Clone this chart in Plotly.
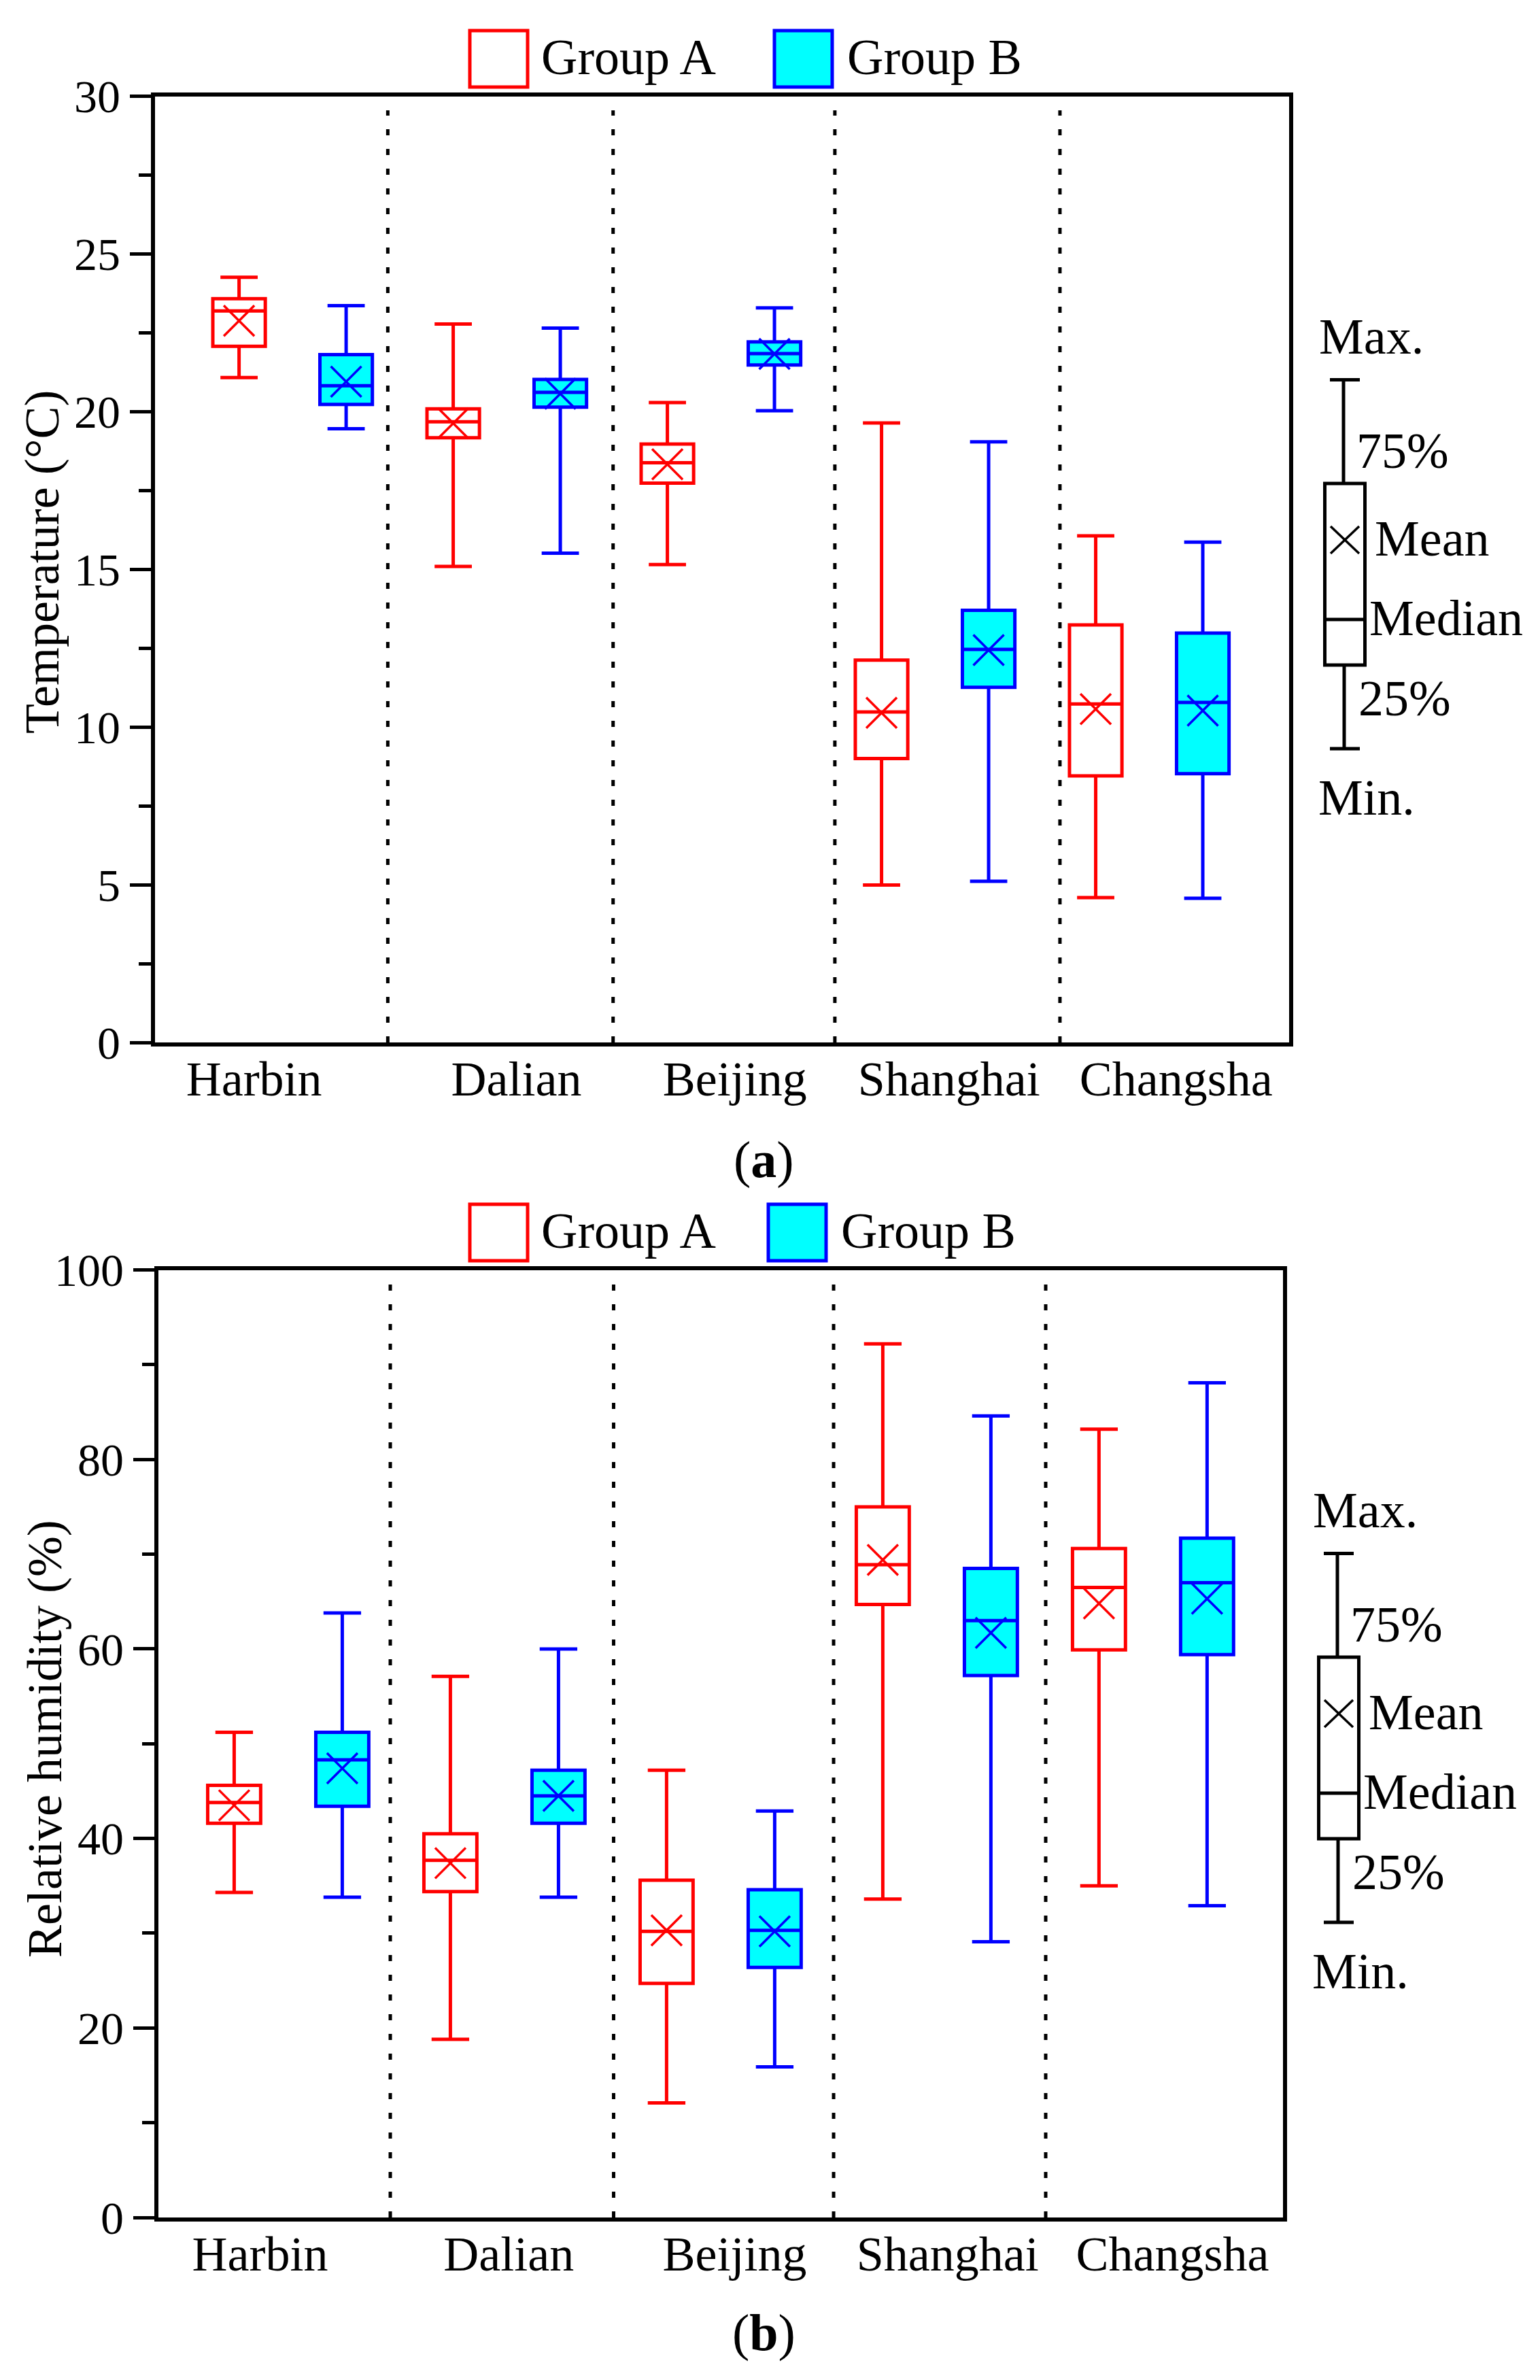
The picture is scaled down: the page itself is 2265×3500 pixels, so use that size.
import plotly.graph_objects as go

W, H = 2265, 3500
OFF = 8  # page body margin compensation

cities = ["Harbin", "Dalian", "Beijing", "Shanghai", "Changsha"]

# (a) air temperature, °C  -- per city: Group A / Group B
temp_a_max = [24.26, 22.78, 20.29, 19.64, 16.06]
temp_a_q3 = [23.58, 20.09, 18.97, 12.12, 13.24]
temp_a_med = [23.19, 19.68, 18.38, 10.48, 10.73]
temp_a_q1 = [22.07, 19.17, 17.73, 9.00, 8.45]
temp_a_min = [21.08, 15.09, 15.15, 4.99, 4.59]
temp_a_mean = [22.88, 19.63, 18.33, 10.45, 10.57]

temp_b_max = [23.36, 22.65, 23.29, 19.04, 15.86]
temp_b_q3 = [21.81, 21.02, 22.21, 13.70, 12.98]
temp_b_med = [20.82, 20.61, 21.84, 12.46, 10.78]
temp_b_q1 = [20.23, 20.14, 21.48, 11.26, 8.52]
temp_b_min = [19.46, 15.51, 20.03, 5.11, 4.57]
temp_b_mean = [20.95, 20.57, 21.83, 12.44, 10.52]

# (b) relative humidity, %
rh_a_max = [51.2, 57.1, 47.2, 92.2, 83.2]
rh_a_q3 = [45.6, 40.5, 35.6, 75.0, 70.6]
rh_a_med = [43.8, 37.7, 30.2, 68.9, 66.5]
rh_a_q1 = [41.6, 34.4, 24.7, 64.7, 59.9]
rh_a_min = [34.3, 18.8, 12.1, 33.6, 35.0]
rh_a_mean = [43.5, 37.4, 30.3, 69.4, 64.8]

rh_b_max = [63.8, 60.0, 42.9, 84.6, 88.1]
rh_b_q3 = [51.2, 47.2, 34.6, 68.5, 71.7]
rh_b_med = [48.3, 44.5, 30.3, 63.0, 67.0]
rh_b_q1 = [43.4, 41.6, 26.4, 57.2, 59.4]
rh_b_min = [33.8, 33.8, 15.9, 29.1, 32.9]
rh_b_mean = [47.4, 44.5, 30.2, 61.7, 65.3]

FONT = "Liberation Serif"
RED, BLUE, CYAN = "#FF0000", "#0000FF", "#00FFFF"

pos_a = [2 * i for i in range(len(cities))]
pos_b = [2 * i + 1 for i in range(len(cities))]


def px(x):
    return (x - OFF) / W


def py(y):
    return 1 - (y - OFF) / H


fig = go.Figure()
shapes = []
annots = []


def add_panel(n, stats_a, stats_b, yrange, ytick_step, minor_step, ytitle,
              xdom, ydom, xrange, label_pos, dividers, dy, dx, caption, title_xy):
    xa, ya = ("x", "y") if n == 1 else (f"x{n}", f"y{n}")
    for pos, st, col, fill in ((pos_a, stats_a, RED, "rgba(0,0,0,0)"),
                               (pos_b, stats_b, BLUE, CYAN)):
        mx, q3, med, q1, mn, mean = st
        fig.add_trace(go.Box(
            x=pos, q1=q1, median=med, q3=q3, lowerfence=mn, upperfence=mx,
            boxpoints=False, width=0.49, whiskerwidth=0.71,
            line=dict(color=col, width=5), fillcolor=fill,
            xaxis=xa, yaxis=ya, showlegend=False, hoverinfo="skip"))
        fig.add_trace(go.Scatter(
            x=pos, y=mean, mode="markers", xaxis=xa, yaxis=ya,
            marker=dict(symbol="x-thin", size=45, color=col,
                        line=dict(color=col, width=3.5)),
            showlegend=False, hoverinfo="skip"))

    ax = dict(domain=[px(xdom[0]), px(xdom[1])], range=xrange,
              showgrid=False, zeroline=False,
              showline=True, linewidth=6, linecolor="black", mirror=True,
              ticks="", tickvals=label_pos, ticktext=cities, automargin=False,
              ticklabelstandoff=-14,
              tickfont=dict(family=FONT, size=72, color="black"),
              anchor=ya)
    ay = dict(domain=[py(ydom[1]), py(ydom[0])], range=yrange,
              showgrid=False, zeroline=False,
              showline=True, linewidth=6, linecolor="black", mirror=True,
              ticks="outside", ticklen=31, tickwidth=5, tickcolor="black",
              dtick=ytick_step, tick0=0, automargin=False,
              minor=dict(ticks="outside", ticklen=18, tickwidth=5,
                         tickcolor="black", dtick=minor_step, tick0=0),
              tickfont=dict(family=FONT, size=68, color="black"),
              anchor=xa)
    if n == 1:
        fig.update_layout(xaxis=ax, yaxis=ay)
    else:
        fig.update_layout(**{f"xaxis{n}": ax, f"yaxis{n}": ay})

    # y-axis title
    annots.append(dict(xref="paper", yref="paper", x=px(title_xy[0]), y=py(title_xy[1]),
                       text=ytitle, textangle=-90, showarrow=False,
                       xanchor="center", yanchor="middle",
                       font=dict(family=FONT, size=72, color="black")))

    for d in dividers:
        shapes.append(dict(type="line", xref=xa, yref=f"{ya} domain",
                           x0=d, x1=d, y0=0, y1=0.985,
                           line=dict(color="black", width=5, dash="9px,20px")))

    # legend
    for (x0, x1, tx, name, col, fill) in ((691, 776, 794, "Group A", RED, "white"),
                                          (1139 + dx, 1224 + dx, 1244 + dx, "Group B", BLUE, CYAN)):
        shapes.append(dict(type="rect", xref="paper", yref="paper",
                           x0=px(x0), x1=px(x1), y0=py(45 + dy), y1=py(128 + dy),
                           line=dict(color=col, width=5), fillcolor=fill))
        annots.append(dict(xref="paper", yref="paper", x=px(tx), y=py(84 + dy),
                           text=name, showarrow=False, xanchor="left", yanchor="middle",
                           font=dict(family=FONT, size=74, color="black")))

    # box key on the right
    kx = 1978 + dx
    k = dict(xref="paper", yref="paper")
    line = dict(color="black", width=5)
    shapes.append(dict(type="line", **k, x0=px(kx - 22), x1=px(kx + 22),
                       y0=py(558.6 + dy), y1=py(558.6 + dy), line=line))
    shapes.append(dict(type="line", **k, x0=px(kx - 2), x1=px(kx - 2),
                       y0=py(558.6 + dy), y1=py(711 + dy), line=line))
    shapes.append(dict(type="rect", **k, x0=px(kx - 29.5), x1=px(kx + 29.5),
                       y0=py(711 + dy), y1=py(978 + dy), line=line))
    shapes.append(dict(type="line", **k, x0=px(kx - 29.5), x1=px(kx + 29.5),
                       y0=py(911 + dy), y1=py(911 + dy), line=line))
    shapes.append(dict(type="line", **k, x0=px(kx - 1), x1=px(kx - 1),
                       y0=py(978 + dy), y1=py(1101 + dy), line=line))
    shapes.append(dict(type="line", **k, x0=px(kx - 22), x1=px(kx + 22),
                       y0=py(1101 + dy), y1=py(1101 + dy), line=line))
    for sx in (-1, 1):
        shapes.append(dict(type="line", **k, x0=px(kx - 21), x1=px(kx + 21),
                           y0=py(794 + dy - sx * 20), y1=py(794 + dy + sx * 20),
                           line=dict(color="black", width=3.5)))
    for txt, tx, ty in (("Max.", 1938, 495), ("75%", 1993, 663), ("Mean", 2020, 792),
                        ("Median", 2012, 909), ("25%", 1996, 1027), ("Min.", 1937, 1173)):
        annots.append(dict(**k, x=px(tx + dx), y=py(ty + dy), text=txt, showarrow=False,
                           xanchor="left", yanchor="middle",
                           font=dict(family=FONT, size=74, color="black")))

    annots.append(dict(xref="paper", yref="paper", x=px(1123), y=py(caption[1]),
                       text=caption[0], showarrow=False, xanchor="center", yanchor="middle",
                       font=dict(family=FONT, size=76, color="black")))


add_panel(1,
          (temp_a_max, temp_a_q3, temp_a_med, temp_a_q1, temp_a_min, temp_a_mean),
          (temp_b_max, temp_b_q3, temp_b_med, temp_b_q1, temp_b_min, temp_b_mean),
          [0, 30], 5, 2.5, "Temperature (°C)",
          [227.5, 1895.5], [141.5, 1533],
          [-0.788, 9.803], [0.14, 2.59, 4.63, 6.63, 8.75],
          [1.389, 3.493, 5.564, 7.666], 0, 0, ("(<b>a</b>)", 1706), (62, 826))

add_panel(2,
          (rh_a_max, rh_a_q3, rh_a_med, rh_a_q1, rh_a_min, rh_a_mean),
          (rh_b_max, rh_b_q3, rh_b_med, rh_b_q1, rh_b_min, rh_b_mean),
          [0, 100], 20, 10, "Relative humidity (%)",
          [232.5, 1886.5], [1867.6, 3261],
          [-0.704, 9.699], [0.24, 2.54, 4.63, 6.60, 8.68],
          [1.444, 3.51, 5.545, 7.507], 1726, -9, ("(<b>b</b>)", 3430), (66, 2557))

fig.update_layout(
    width=W, height=H, autosize=False,
    margin=dict(l=0, r=0, t=0, b=0, pad=0),
    paper_bgcolor="white", plot_bgcolor="white",
    boxmode="overlay", showlegend=False,
    shapes=shapes, annotations=annots,
    font=dict(family=FONT, color="black"),
)

fig.write_html("out.html")
